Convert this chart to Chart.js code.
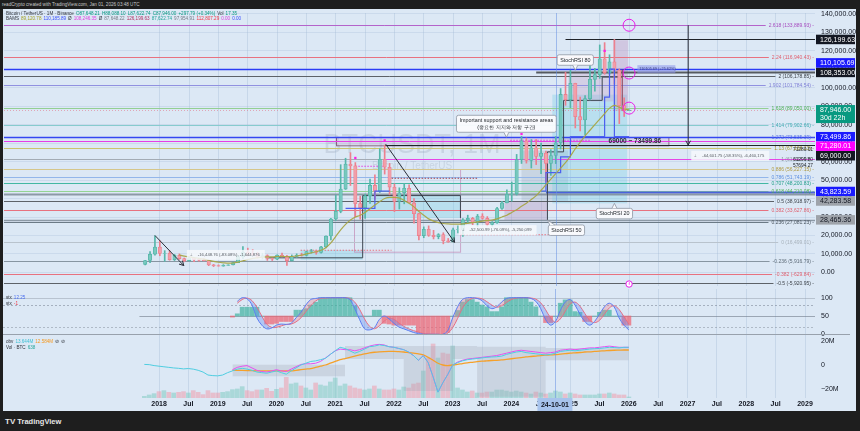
<!DOCTYPE html>
<html>
<head>
<meta charset="utf-8">
<script src="https://cdn.jsdelivr.net/npm/chart.js@4.4.1/dist/chart.umd.min.js"></script>
<style>
html,body{margin:0;padding:0;width:860px;height:431px;overflow:hidden;background:#1e1e1e;}
#frame{position:absolute;left:3px;top:9px;width:853px;height:402px;background:#dce8f5;}
canvas{position:absolute;left:0;}
#hdr{position:absolute;left:2px;top:2px;font:4.6px "Liberation Sans",Arial,sans-serif;color:#c8c8c8;white-space:nowrap;}
#tv{position:absolute;left:5px;top:417px;font:bold 7.5px "Liberation Sans",Arial,sans-serif;color:#e6e6e6;white-space:nowrap;}
</style>
</head>
<body>
<div id="hdr">readCrypto created with TradingView.com, Jan 01, 2026 03:48 UTC</div>
<div id="frame"></div>
<canvas id="cMain" width="860" height="281" style="top:9px"></canvas>
<canvas id="cStoch" width="860" height="48" style="top:289px"></canvas>
<canvas id="cLow" width="860" height="74" style="top:337px"></canvas>
<div id="tv"><span style="font-size:8px">TV</span> TradingView</div>
<script>
// ---------------- DATA ----------------
const firstMonth = '2017-10';            // first monthly candle (BTCUSDT, Binance, 1M)
const open = [
 4378.49, 6463.00, 9837.00,
 13715.65, 10285.10, 10325.64, 6922.00, 9246.01, 7485.01, 6391.08, 7735.67, 7011.21, 6626.57, 6369.52, 4041.27,
 3701.23, 3434.10, 3814.26, 4102.44, 5321.94, 8555.00, 10854.10, 10080.53, 9588.74, 8289.97, 9140.86, 7540.63,
 7195.24, 9351.71, 8523.61, 6412.14, 8620.00, 9448.27, 9138.08, 11335.46, 11649.51, 10776.59, 13791.00, 19695.87,
 28923.63, 33092.97, 45134.11, 58739.46, 57697.25, 37254.24, 35045.00, 41461.84, 47100.89, 43820.01, 61299.81, 56950.56,
 46216.93, 38466.90, 43160.00, 45510.35, 37631.83, 31801.05, 19942.21, 23296.36, 20048.44, 19422.61, 20490.74, 17165.53,
 16541.77, 23125.13, 23141.57, 28465.36, 29233.20, 27210.36, 30471.99, 29232.26, 25940.77, 26962.57, 34639.78, 37723.97,
 42283.58, 42580.00, 61130.99, 71280.00, 60672.01, 67540.01, 62772.01, 64628.01, 58974.00, 63327.60, 70215.20, 96407.99,
 93576.00, 102429.56, 84349.95, 82550.00, 94172.00, 104591.88, 107135.34, 115764.07, 108246.36, 114048.94, 109608.01, 90360.01,
 87648.21];
const high = [
 6498.01, 11300.03, 19798.68,
 17176.24, 11786.01, 11710.00, 9759.82, 10020.00, 7786.69, 8491.77, 7750.00, 7410.00, 7680.00, 6615.15, 4312.99,
 4069.80, 4198.00, 4140.00, 5656.52, 9074.26, 13970.00, 13147.08, 12325.00, 10905.87, 10370.00, 9513.68, 7750.00,
 9578.00, 10500.00, 9188.00, 9467.35, 10067.00, 10380.00, 11444.00, 12468.00, 12050.85, 14100.00, 19863.16, 29300.00,
 41950.00, 58352.80, 61844.00, 64854.00, 59500.00, 41330.00, 42448.00, 50500.00, 52920.00, 66999.00, 69000.00, 59053.55,
 47990.00, 45821.00, 48189.84, 47444.11, 40023.77, 31986.10, 24668.00, 25211.32, 22799.00, 20988.39, 21480.65, 18387.95,
 23960.54, 25250.00, 29184.68, 31000.00, 29820.00, 31431.94, 31804.20, 30244.00, 27483.57, 35280.00, 38450.00, 44700.00,
 48969.48, 63913.13, 73777.00, 72797.99, 71979.00, 71997.02, 70079.99, 65659.78, 66498.00, 73620.12, 99588.01, 108353.00,
 109588.00, 102500.01, 95000.00, 95758.04, 111980.00, 110530.17, 123218.00, 124474.00, 117900.00, 126199.63, 110250.00, 94588.99,
 88088.10];
const low = [
 4110.00, 5325.01, 9380.00,
 9035.00, 6000.01, 6600.10, 6430.00, 7032.95, 5750.00, 6070.00, 5880.00, 6111.00, 6205.00, 3652.66, 3156.26,
 3349.92, 3373.10, 3759.01, 4067.00, 5316.20, 7444.58, 9010.00, 9320.00, 7710.00, 7300.00, 6515.00, 6435.00,
 6871.04, 8445.00, 3782.13, 6150.11, 8117.00, 8833.00, 8893.03, 10518.50, 9825.00, 10416.69, 13195.05, 17572.33,
 28130.00, 32296.16, 44950.53, 47044.01, 30000.00, 28805.00, 29278.00, 37332.70, 39600.00, 43283.03, 53256.64, 42000.30,
 32917.17, 34322.28, 37155.00, 37578.20, 26700.00, 17622.00, 18781.00, 19520.00, 18125.98, 18190.00, 15476.00, 16256.30,
 16499.01, 21351.07, 19549.09, 26942.82, 25811.46, 24800.00, 28861.90, 25166.00, 24901.00, 26538.66, 34097.39, 37615.86,
 38555.00, 41884.28, 59005.00, 59191.60, 56552.82, 58402.00, 53485.93, 49000.00, 52550.00, 58946.00, 66835.00, 90500.00,
 89256.69, 78258.52, 76606.00, 74508.00, 93377.00, 98200.00, 105100.19, 107350.10, 107255.00, 102000.00, 80600.00, 84450.00,
 87622.74];
const close = [
 6463.00, 9838.96, 13716.36,
 10285.10, 10326.50, 6923.91, 9246.01, 7485.01, 6390.07, 7730.93, 7011.21, 6626.57, 6371.93, 4041.32, 3702.90,
 3434.10, 3813.69, 4103.95, 5320.81, 8555.00, 10854.10, 10080.53, 9587.47, 8289.34, 9140.85, 7541.89, 7195.23,
 9352.89, 8523.61, 6410.44, 8620.00, 9448.27, 9138.55, 11335.46, 11649.51, 10776.59, 13791.00, 19695.87, 28923.63,
 33092.98, 45135.66, 58740.55, 57694.27, 37253.81, 35045.00, 41461.83, 47100.89, 43824.43, 61299.80, 56950.56, 46216.93,
 38466.90, 43160.00, 45510.34, 37630.80, 31801.04, 19942.21, 23293.32, 20050.02, 19422.61, 20490.74, 17164.92, 16542.40,
 23125.13, 23141.57, 28465.36, 29233.21, 27210.35, 30472.00, 29232.25, 25940.78, 26962.56, 34639.77, 37723.96, 42283.58,
 42580.00, 61130.98, 71280.01, 60672.00, 67540.01, 62772.01, 64628.00, 58973.99, 63327.59, 70215.19, 96407.99, 93576.00,
 102429.56, 84349.94, 82550.01, 94172.00, 104591.88, 107135.33, 115764.08, 108246.35, 114048.93, 109608.01, 90360.00, 87648.22,
 87946.00];
// monthly volume, thousand BTC
const volumeK = [
 500, 900, 1300,
 1900, 2200, 1700, 1500, 1700, 1900, 1500, 2200, 1700, 1000, 2200, 1500,
 1500, 1700, 1900, 2500, 2700, 3400, 2200, 1900, 2400, 2400, 2900, 2000,
 2600, 3000, 6200, 4200, 4500, 3600, 3000, 2400, 4500, 3900, 3600, 4800,
 6000, 3600, 4200, 3600, 3000, 2700, 2400, 2700, 3600, 2700, 2400, 2400,
 2700, 2400, 3300, 3000, 4200, 4500, 8100, 12000, 16200, 12000, 13500, 13200,
 15600, 3000, 2400, 1800, 2100, 1500, 1500, 1800, 1800, 2400, 2400, 2100,
 1800, 2100, 1800, 1500, 1200, 1800, 1500, 1200, 1500, 2100, 1800, 1200,
 1500, 1200, 900, 900, 900, 900, 1200, 1200, 1500, 1200, 900, 900,
 300];
// olive moving-average line (thousand USDT), from 2018-05
const maStart = '2018-05';
const maK = [
 9.5, 8.8, 8.4, 8.0, 7.6, 7.2, 6.6, 6.0,
 5.5, 5.2, 5.0, 5.1, 5.6, 6.3, 7.0, 7.6, 8.0, 8.3, 8.4, 8.4,
 8.6, 8.7, 8.5, 8.6, 8.9, 9.4, 10.0, 10.6, 11.2, 12.0, 13.5, 16.0,
 19.5, 23.0, 26.0, 28.4, 30.0, 31.0, 32.5, 34.5, 36.5, 38.4, 40.0, 40.6,
 40.6, 40.3, 39.0, 37.4, 35.5, 33.0, 31.0, 29.0, 27.8, 27.0, 26.5, 26.3,
 26.2, 26.2, 26.3, 26.6, 27.0, 27.4, 27.8, 28.1, 28.4, 29.0, 30.0, 31.0,
 32.5, 34.0, 35.8, 37.5, 39.5, 41.6, 44.5, 47.5, 50.5, 53.5, 56.5, 59.5,
 63.0, 67.0, 70.5, 74.0, 77.0, 80.0, 83.0, 86.0, 89.0, 90.5, 89.5, 88.5,
 88.0];
// blue stepped support line (thousand USDT), from 2021-03
const stepStart = '2021-03';
const stepK = [
 34.7, 34.7, 34.7, 34.7, 34.7, 34.7, 34.7, 44.0, 44.0, 44.0,
 null, null, null, null, null, null, null, null, null, null, null, null,
 null, null, null, null, null, null, null, null, null, null, null, null,
 null, null, null, null, null, null, 44.0, 44.0, 54.0, 54.0, 54.0, 62.6,
 62.6, 73.5, 73.5, 73.5, 73.5, 73.5, 73.5, 73.5, 95.0, 110.1, 73.5, 73.5,
 73.5];
// pivot-high markers
const pivotMonths = ['2021-05', '2021-11', '2024-03', '2025-08'];
const pivotPrices = [62000, 71500, 75000, 120000];

// Fibonacci levels
const fibRatios = ['2.618','2.24','2','1.902','1.618','1.414','1.272','1.13','1','0.886','0.786','0.707','0.618','0.5','0.382','0.236','0','-0.236','-0.382','-0.5'];
const fibPrices = [133889.93,116940.43,106178.85,101784.54,89050.00,79902.66,73535.39,67168.13,61338.93,56227.15,51743.19,48200.83,44210.08,38918.97,33627.86,27081.23,16499.01,5916.79,-629.84,-5920.95];

// key price levels with axis badges
const levelPrices = [126199.63, 110105.69, 108353.00, 73499.86, 71280.01, 69000.00, 43823.59, 42283.58, 28465.36];
const levelFrom   = ['2024-12', '2015-01', '2024-06', '2015-01', '2015-01', '2021-11', '2024-08', '2015-01', '2015-01'];
const lastPrice = 87946.00, lastCountdown = '30d 22h';

// StochRSI pane (from 2019-05) and histogram (from 2019-04)
const stochStart = '2019-05';
const stochK = [
 90,100,97,80,45,25,15,17,
 25,28,27,30,45,60,80,95,98,100,100,100,
 100,100,100,95,70,40,15,12,18,40,50,42,
 30,20,15,10,5,2,0,0,0,0,0,10,
 45,75,95,100,100,98,92,78,70,75,88,98,
 100,100,100,100,98,90,70,40,25,35,65,88,
 95,80,55,35,25,35,55,75,85,75,45,25,
 12];
const stochD = [
 85,95,99,92,74,50,28,19,
 19,23,27,28,34,45,62,78,91,98,99,100,
 100,100,100,98,88,68,42,22,15,23,36,44,
 41,31,22,15,10,6,2,1,0,0,0,3,
 18,43,72,90,98,99,97,89,80,74,78,87,
 95,99,100,100,99,96,86,67,45,33,42,63,
 83,88,77,57,38,32,38,55,72,78,68,48,
 28];
const histStart = '2019-04';
const stochHist = [
 47,56,74,74,74,74,50,28,28,
 30,35,35,35,66,66,70,80,88,100,100,100,
 100,100,100,100,78,50,50,50,66,66,30,28,
 25,25,25,25,25,5,0,0,0,0,0,5,
 50,65,88,95,95,88,80,75,62,62,75,100,
 100,100,100,100,88,75,50,32,32,50,85,94,
 94,62,60,35,35,50,60,66,66,50,50,25,
 25];

// lower pane (millions)
const cyanM = [
 0.5, 0.3, -0.5,
 -1.0,-1.5,-2.0,-2.5,-2.8,-3.3,-3.0,-3.5,-4.5,-6.0,-8.5,-9.0,
 -9.2,-8.5,-6.5,-5.0,-3.5,-2.8,-3.5,-4.5,-6.0,-6.5,-7.0,-6.0,
 -5.0,-6.5,-7.8,-5.0,-2.5,0,1.5,3.0,3.5,4.5,5.6,9.0,
 12.0,15.0,14.0,12.0,10.0,11.5,13.5,15.5,16.0,17.0,16.5,15.5,
 15.0,14.0,13.0,11.0,8.0,4.0,8.0,2.0,-10.0,-23.0,-15.0,-8.0,
 0,2.0,3.5,4.5,5.0,5.5,6.0,6.5,6.8,7.0,7.5,9.0,
 10.0,11.0,11.5,10.5,10.0,9.5,9.0,8.5,9.0,10.0,11.5,12.0,
 12.5,12.0,12.5,13.0,13.5,13.8,14.0,14.5,15.0,14.8,14.5,15.0,
 15.0];
const lowStart = '2019-04';
const magentaM = [
 -4.0,-2.0,-1.0,-0.5,-2.5,-4.5,-5.5,-6.0,-5.0,
 -4.0,-5.0,-5.5,-3.5,-1.5,0.5,1.0,1.0,1.5,3.0,6.0,9.0,
 12.0,13.5,13.0,13.0,12.0,13.0,14.5,16.0,17.0,17.5,17.0,15.5,
 15.0,14.0,13.0,11.0,8.0,4.0,8.0,2.0,-10.0,-23.0,-15.0,-8.0,
 0,2.5,4.0,5.0,5.5,6.0,6.5,7.0,7.5,8.0,9.0,10.0,
 11.0,12.0,12.5,12.0,11.5,11.0,10.5,10.0,10.5,11.0,12.5,13.0,
 13.5,13.0,13.5,14.0,14.5,14.5,15.0,15.5,16.0,15.5,15.0,15.0,
 15.0];
const orangeM = [
 -4.5,-4.5,-4.6,-4.7,-4.8,-5.0,-5.0,-5.0,-5.0,
 -5.0,-5.0,-5.0,-5.0,-4.5,-4.0,-3.5,-3.0,-2.0,-1.0,0,1.5,
 3.0,4.5,5.5,6.5,7.5,8.5,9.5,10.2,10.8,11.2,11.4,11.5,
 11.5,11.3,11.0,10.5,10.0,9.5,8.5,6.5,4.0,1.5,0,-0.5,
 0,0.5,1.2,1.8,2.3,2.8,3.2,3.5,3.8,4.0,4.3,4.8,
 5.3,5.8,6.3,6.8,7.2,7.6,8.0,8.3,8.5,8.8,9.2,9.6,
 10.0,10.3,10.6,11.0,11.2,11.5,11.8,12.0,12.3,12.5,12.6,12.7,
 12.7];
const bandUpperM = [
 0.5,0.5,0.5,0.5,0.3,0.3,0.3,0.3,0.3, 0.3,0.3,0.3,0.3,0.3,0.3,0.3,0.3,0.3,0.3,0.3,0.3, 0.3,0.3,0.3,
 16,16,16,16,16,16,16,16,16,16,16,16,
 16,16,16,16,16,16,16,16,16,16,
 16,16,16,16,16,
 15.5,15.5,15.5,15.5,15.5,15.5,15.5,15.5,15.5,15.5,15.5,15.5,15.5,15.5,
 14.5,14.5,14.5,14.5,14.5,14.5,14.5,14.5,14.5,14.5,14.5,14.5,14.5,14.5,14.5,14.5,14.5];
const bandLowerM = [
 -9.5,-9.5,-9.5,-9.5,-9.5,-9.5,-9.5,-9.5,-9.5, -9.5,-9.5,-9.5,-9.5,-9.5,-9.5,-9.5,-9.5,-9.5,-9.5,-9.5,-9.5, -9.5,-9.5,-9.5,
 5,5,5,5,5,5,5,5,5,5,5,5,
 -22,-22,-22,-22,-22,-22,-22,-22,-22,-22,
 5,5,5,5,5,
 -27,-27,-27,-27,-27,-27,-27,-27,-27,-27,-27,-27,-27,-27,
 4,4,4,4,4,4,4,4,4,4,4,4,4,4,4,4,4];

// axes
const xTickLabels = ['2018','Jul','2019','Jul','2020','Jul','2021','Jul','2022','Jul','2023','Jul','2024','Jul','2025','Jul','2026','Jul','2027','Jul','2028','Jul','2029'];
const priceTicks = [0,10000,20000,30000,40000,50000,60000,70000,80000,90000,100000,110000,120000,130000,140000];
const stochTicks = [0,50,100];
const lowTicks = [-20,0,20];
const crossMonth = '2024-10';

// ---------------- HELPERS ----------------
const FONT = '"Liberation Sans", Arial, sans-serif';
const mi = s => { const [y, m] = s.split('-').map(Number); return (y - 2018) * 12 + (m - 1); };
const X_MIN = -31.88, X_MAX = 134.04;
const f0 = mi(firstMonth);
const fmt2 = v => v.toLocaleString('en-US', {minimumFractionDigits: 2, maximumFractionDigits: 2});
const xy = (start, vals, k = 1) => vals.map((v, i) => ({x: mi(start) + i, y: v === null ? null : v * k}));
const isUp = close.map((c, i) => c >= open[i]);
Chart.defaults.font.family = FONT;

function xScale(showLabels) {
  return {
    type: 'linear', min: X_MIN, max: X_MAX, offset: false,
    grid: {display: true, color: 'rgba(160,182,212,0.35)', drawTicks: false, offset: false},
    border: {display: false},
    ticks: {display: showLabels, autoSkip: false, maxRotation: 0, padding: 2, color: '#131722',
            font: {size: 7, weight: 'bold'}, callback: (v, i) => xTickLabels[i]},
    afterBuildTicks: s => { s.ticks = xTickLabels.map((t, i) => ({value: i * 6})); },
    afterFit: s => { s.paddingLeft = 0; s.paddingRight = 0; if (showLabels) s.height = 13; }
  };
}
function yScale(min, max, ticks, cb, grid) {
  return {
    position: 'right', min, max,
    grid: {display: grid, color: 'rgba(160,182,212,0.28)', drawTicks: false},
    border: {display: false},
    ticks: {padding: 6, color: '#131722', font: {size: 7}, callback: cb, autoSkip: false},
    afterBuildTicks: s => { s.ticks = ticks.map(v => ({value: v})); },
    afterFit: s => { s.width = 41; s.paddingTop = 0; s.paddingBottom = 0; }
  };
}
function line(ctx, pts, color, w, dash) {
  ctx.save(); ctx.strokeStyle = color; ctx.lineWidth = w || 1; ctx.setLineDash(dash || []);
  ctx.beginPath(); pts.forEach((p, i) => i ? ctx.lineTo(p[0], p[1]) : ctx.moveTo(p[0], p[1])); ctx.stroke(); ctx.restore();
}
function arrowHead(ctx, x0, y0, x1, y1, color) {
  const a = Math.atan2(y1 - y0, x1 - x0), L = 5;
  line(ctx, [[x1 - L * Math.cos(a - 0.5), y1 - L * Math.sin(a - 0.5)], [x1, y1], [x1 - L * Math.cos(a + 0.5), y1 - L * Math.sin(a + 0.5)]], color, 1);
}
function rrect(ctx, x, y, w, h, r) {
  ctx.beginPath(); ctx.moveTo(x + r, y); ctx.arcTo(x + w, y, x + w, y + h, r); ctx.arcTo(x + w, y + h, x, y + h, r);
  ctx.arcTo(x, y + h, x, y, r); ctx.arcTo(x, y, x + w, y, r); ctx.closePath();
}
function segs(ctx, x, y, parts) {
  parts.forEach(([t, c]) => { ctx.fillStyle = c; ctx.fillText(t, x, y); x += ctx.measureText(t).width + 2; });
}
function crosshair(chart) {
  const {ctx, chartArea: a, scales: {x}} = chart;
  const px = Math.round(x.getPixelForValue(mi(crossMonth))) + 0.5;
  line(ctx, [[px, a.top], [px, a.bottom]], 'rgba(105,145,225,0.55)', 1);
}

// ---------------- STYLE TABLES ----------------
const fibColors = ['#b463cb','#e8717f','#5d6268','#9191e0','#93cf93','#86cbce','#6f86e8','#cbc36c','#a3abb4','#d5c68a','#93b6ea','#42b7a3','#93d493','#5d6268','#e8717f','#6b7a86','#b9c3cd','#8795a1','#e8717f','#5d6268'];
const fibText   = ['#a64dbf','#e0606f','#3d4248','#7f7fd6','#4caf50','#3eaab0','#5a74e6','#a69a2a','#8c949c','#b09a40','#5d8fe0','#1f9d88','#4caf50','#3d4248','#e0606f','#4a5560','#a8b2bc','#5e6c78','#e0606f','#3d4248'];
const levelColors = ['#131722','#1a1aff','#131722','#1a1aff','#ff00ff','#131722','#1a1aff','#9ea3aa','#9ea3aa'];
const levelLine   = ['#1f2328','#2b3cf5','#555a60','#3446f2','#e63ee6','#1f2328','#4a62dc','rgba(120,132,146,0.8)','rgba(120,132,146,0.8)'];
const levelWidth  = [1.2, 1.5, 2, 1.5, 1, 1.2, 2, 2, 1.5];
const levelText   = ['#fff','#fff','#fff','#fff','#fff','#fff','#fff','#131722','#131722'];
const levelDir    = [1, -1, 1, 1, 1, 1, 1, 1, 1];

// annotation shapes in data coordinates (month index from Jan 2018, price)
const boxes = [
  {m0: 28.8, m1: 41.5, p0: 6800,  p1: 12100,  fill: 'rgba(120,205,225,0.35)'},
  {m0: 41.5, m1: 61.5, p0: 29500, p1: 41600,  fill: 'rgba(120,205,225,0.35)'},
  {m0: 39.8, m1: 61.5, p0: 11000, p1: 55800,  stroke: 'rgba(190,120,170,0.6)'},
  {m0: 70.5, m1: 79.3, p0: 28400, p1: 38400,  fill: 'rgba(175,140,185,0.35)'},
  {m0: 74.0, m1: 83.5, p0: 38800, p1: 66000,  fill: 'rgba(140,155,175,0.25)'},
  {m0: 80.3, m1: 95.6, p0: 37400, p1: 96300,  fill: 'rgba(120,205,230,0.35)'},
  {m0: 83.6, m1: 92.8, p0: 92600, p1: 108400, fill: 'rgba(195,160,200,0.35)'},
  {m0: 92.8, m1: 95.8, p0: 87400, p1: 125800, fill: 'rgba(190,150,195,0.4)'},
  {m0: 36.0, m1: 104.0, p0: 69000, p1: 73499.86, fill: 'rgba(205,170,205,0.3)', stroke: 'rgba(120,70,100,0.8)'}
];
const polylines = [
  {pts: [[21.9,7900],[41.5,7900],[41.5,41600],[61.5,41600],[61.5,29500]], color: '#3d4650'},
  {pts: [[79.3,28400],[79.3,65300],[82.6,65300],[82.6,93200],[90.5,93200],[90.5,105800],[94.6,105800]], color: '#3d4650'},
  {pts: [[94.6,110000],[94.6,87400]], color: '#8b3a4a'}
];
const dotted = [
  {m0: 40, m1: 45.8, p: 57500, color: '#e040e0'},
  {m0: 71.7, m1: 88, p: 71600, color: '#e040e0'},
  {m0: 28.8, m1: 47.4, p: 12000, color: '#e8717f'},
  {m0: 61.5, m1: 80, p: 20400, color: '#e8717f'},
  {m0: 46.8, m1: 65, p: 51000, color: '#a0404f'}
];
const arrows = [
  {m0: -1.0, p0: 20000, m1: 4.9, p1: 3700},
  {m0: 46.2, p0: 69500, m1: 60.3, p1: 16300},
  {m0: 108.1, p0: 133890, m1: 108.1, p1: 69000}
];
const circles = [{m: 96, p: 133890, r: 6}, {m: 96, p: 108000, r: 6}, {m: 96, p: 89000, r: 6}];
const measures = [
  {m: 13.5, p: 9470,  t: '-16,448.76 (-83.08%), -1,644,876'},
  {m: 69.1, p: 22900, t: '-52,500.99 (-76.09%), -5,250,099'},
  {m: 116.7, p: 63200, t: '-64,601.75 (-58.35%), -6,460,175'}
];
const callouts = [
  {m: 85.0, p: 109500, dx: 0, dy: -10, lines: ['StochRSI 80']},
  {m: 70.9, p: 73200,  dx: 0, dy: -10, lines: ['Important support and resistance areas', '(중요한 지지와 저항 구간)']},
  {m: 93.0, p: 37400,  dx: 0, dy: 10, lines: ['StochRSI 20']},
  {m: 79.3, p: 28400,  dx: 19, dy: 10, lines: ['StochRSI 50']}
];

// ---------------- MAIN PANE ----------------
const Y_MIN = -7368, Y_MAX = 140526;
const mainDecor = {
  id: 'mainDecor',
  beforeDatasetsDraw(chart) {
    const {ctx, chartArea: a, scales: {x, y}} = chart;
    const X = v => x.getPixelForValue(v), Y = v => y.getPixelForValue(v);
    ctx.save();
    ctx.beginPath(); ctx.rect(a.left, a.top, a.right - a.left, a.bottom - a.top); ctx.clip();
    ctx.textAlign = 'center'; ctx.textBaseline = 'middle';
    ctx.fillStyle = 'rgba(120,134,156,0.2)';
    ctx.font = '27px ' + FONT; ctx.fillText('BTCUSDT, 1M', X(51.6), Y(68500));
    ctx.font = '10px ' + FONT; ctx.fillText('Bitcoin / TetherUS', X(51.6), Y(57500));
    boxes.forEach(b => {
      const x0 = X(b.m0), x1 = X(b.m1), y0 = Y(b.p1), y1 = Y(b.p0);
      if (b.fill) { ctx.fillStyle = b.fill; ctx.fillRect(x0, y0, x1 - x0, y1 - y0); }
      if (b.stroke) { ctx.strokeStyle = b.stroke; ctx.lineWidth = 1; ctx.strokeRect(Math.round(x0) + .5, Math.round(y0) + .5, x1 - x0, y1 - y0); }
    });
    ctx.font = '5px ' + FONT;
    fibPrices.forEach((p, i) => {
      const t = fibRatios[i] + ' (' + fmt2(p) + ') -';
      const w = ctx.measureText(t).width;
      const yy = Math.round(Y(p)) + 0.5;
      line(ctx, [[a.left, yy], [a.right - w - 4, yy]], fibColors[i], 1);
    });
    levelPrices.forEach((p, i) => {
      const yy = Math.round(Y(p)) + 0.5;
      line(ctx, [[Math.max(a.left, X(mi(levelFrom[i]))), yy], [a.right, yy]], levelLine[i], levelWidth[i]);
    });
    line(ctx, [[X(mi('2021-11')), Math.round(Y(61299.80)) + .5], [a.right, Math.round(Y(61299.80)) + .5]], '#e646e6', 1);
    dotted.forEach(d => line(ctx, [[X(d.m0), Y(d.p)], [X(d.m1), Y(d.p)]], d.color, 1.2, [1.5, 1.5]));
    line(ctx, [[a.left, Math.round(Y(lastPrice)) + .5], [a.right, Math.round(Y(lastPrice)) + .5]], 'rgba(225,120,140,0.6)', 1, [1, 2]);
    polylines.forEach(pl => line(ctx, pl.pts.map(q => [X(q[0]), Y(q[1])]), pl.color, 1));
    ctx.restore();
  },
  afterDatasetsDraw(chart) {
    const {ctx, chartArea: a, scales: {x, y}} = chart;
    const X = v => x.getPixelForValue(v), Y = v => y.getPixelForValue(v);
    crosshair(chart);
    ctx.save();
    ctx.font = '5px ' + FONT; ctx.textAlign = 'right'; ctx.textBaseline = 'middle';
    fibPrices.forEach((p, i) => { ctx.fillStyle = fibText[i]; ctx.fillText(fibRatios[i] + ' (' + fmt2(p) + ') -', a.right - 1, Math.round(Y(p)) + 0.5); });
    ctx.font = '4.8px ' + FONT; ctx.fillStyle = '#1b1e24';
    ctx.fillText('71280.01', a.right - 2, Y(71280.01) + 9);
    ctx.fillText('61299.80', a.right - 2, Y(61299.80));
    ctx.fillText('57694.27', a.right - 2, Y(57694.27));
    ctx.font = 'bold 6.5px ' + FONT; ctx.fillStyle = '#2a2e39';
    ctx.fillText('69000 ~ 73499.86', X(104) - 7, Y(71250));
    ctx.fillStyle = 'rgba(140,150,235,0.55)'; ctx.fillRect(X(97.7), Y(110105.69) - 4, 38, 8);
    ctx.font = '3.8px ' + FONT; ctx.fillStyle = '#3a3f80'; ctx.textAlign = 'left';
    ctx.fillText('110105.69 (+25.62%)', X(97.7) + 2, Y(110105.69));
    arrows.forEach(r => { const x0 = X(r.m0), y0 = Y(r.p0), x1 = X(r.m1), y1 = Y(r.p1);
      line(ctx, [[x0, y0], [x1, y1]], '#2a2e39', 1); arrowHead(ctx, x0, y0, x1, y1, '#2a2e39'); });
    circles.forEach(c => { ctx.beginPath(); ctx.arc(X(c.m), Y(c.p), c.r, 0, Math.PI * 2); ctx.strokeStyle = '#e91ee9'; ctx.lineWidth = 1; ctx.stroke(); });
    ctx.beginPath(); ctx.arc(X(96), Y(-6300), 3.2, 0, Math.PI * 2); ctx.fillStyle = '#fff'; ctx.fill(); ctx.strokeStyle = '#e91ee9'; ctx.stroke();
    ctx.font = 'bold 4px ' + FONT; ctx.fillStyle = '#e91ee9'; ctx.textAlign = 'center'; ctx.fillText('f', X(96), Y(-6300) + 0.3);
    ctx.font = '4.2px ' + FONT;
    measures.forEach(mm => {
      const w = ctx.measureText(mm.t).width + 16, cx = X(mm.m), cy = Y(mm.p);
      ctx.fillStyle = 'rgba(246,248,251,0.85)'; ctx.fillRect(cx - w / 2, cy - 5, w, 10);
      ctx.fillStyle = '#555a62'; ctx.textAlign = 'left'; ctx.fillText('⌶', cx - w / 2 + 3, cy);
      ctx.fillText(mm.t, cx - w / 2 + 11, cy);
    });
    callouts.forEach(c => {
      ctx.font = '5.4px ' + FONT;
      const tx = X(c.m), ty = Y(c.p);
      const w = Math.max(...c.lines.map(l => ctx.measureText(l).width)) + 6, h = c.lines.length * 6.5 + 4;
      const cx = tx + c.dx, cy = ty + c.dy + (c.dy < 0 ? -h / 2 + 5 : h / 2 - 5);
      const bx = cx - w / 2, by = cy - h / 2;
      ctx.fillStyle = 'rgba(250,251,253,0.95)'; ctx.strokeStyle = '#8e96a2'; ctx.lineWidth = 0.8;
      rrect(ctx, bx, by, w, h, 2); ctx.fill(); ctx.stroke();
      const edgeY = c.dy < 0 ? by + h : by;
      const baseX = c.dx ? bx + 4 : cx;
      ctx.beginPath(); ctx.moveTo(baseX - 2.5, edgeY); ctx.lineTo(tx, ty); ctx.lineTo(baseX + 2.5, edgeY); ctx.closePath();
      ctx.fill(); line(ctx, [[baseX - 2.5, edgeY], [tx, ty], [baseX + 2.5, edgeY]], '#8e96a2', 0.8);
      ctx.fillStyle = '#1b1e24'; ctx.textAlign = 'center'; ctx.textBaseline = 'middle';
      c.lines.forEach((l, i) => ctx.fillText(l, cx, by + 5.3 + i * 6.5));
    });
    ctx.textAlign = 'left'; ctx.textBaseline = 'middle'; ctx.font = '4.6px ' + FONT;
    segs(ctx, a.left + 2, 4.5, [['Bitcoin / TetherUS · 1M · Binance', '#30343c'], ['O87,648.21', '#089981'], ['H88,088.10', '#089981'], ['L87,622.74', '#089981'], ['C87,946.00', '#089981'], ['+297.79 (+0.34%)', '#089981'], ['Vol', '#30343c'], ['17.35', '#089981']]);
    segs(ctx, a.left + 2, 9.5, [['BAMS', '#30343c'], ['89,120.78', '#a6a226'], ['110,185.89', '#3a50ff'], ['Ø', '#30343c'], ['108,246.35', '#e040e0'], ['Ø', '#30343c'], ['87,648.22', '#787b86'], ['126,199.63', '#b03060'], ['87,622.74', '#26a69a'], ['97,954.91', '#787b86'], ['112,807.29', '#f23645'], ['0.00', '#e040e0'], ['0.00', '#3a50ff']]);
    const placed = [];
    const place = (yy, h, dir) => { for (let k = 0; k < 12; k++) { const q = placed.find(o => Math.abs(o.y - yy) < (o.h + h) / 2 - 0.01); if (!q) break; yy = dir < 0 ? q.y - (q.h + h) / 2 : q.y + (q.h + h) / 2; } placed.push({y: yy, h}); return yy; };
    const bx0 = a.right + 1, bw = 39;
    const ly = Y(lastPrice);
    placed.push({y: ly + 3.5, h: 18});
    ctx.fillStyle = '#089981'; ctx.fillRect(bx0, ly - 5, bw, 18);
    ctx.font = '7px ' + FONT; ctx.fillStyle = '#fff'; ctx.fillText(fmt2(lastPrice), bx0 + 4, ly);
    ctx.fillText(lastCountdown, bx0 + 4, ly + 8);
    const order = [0, 2, 1, 3, 4, 5, 6, 7, 8];
    order.forEach(i => {
      const yy = place(Y(levelPrices[i]), 9.5, levelDir[i]);
      ctx.fillStyle = levelColors[i]; ctx.fillRect(bx0, yy - 4.75, bw, 9.5);
      ctx.fillStyle = levelText[i]; ctx.fillText(fmt2(levelPrices[i]), bx0 + 4, yy + 0.3);
    });
    ctx.restore();
  }
};

const candleBodies = open.map((o, i) => ({x: f0 + i, y: [Math.min(o, close[i]), Math.max(o, close[i])]}));
const candleWicks = open.map((o, i) => ({x: f0 + i, y: [low[i], high[i]]}));
const upFill = 'rgba(140,212,203,0.6)', upLine = '#56b6aa', dnFill = 'rgba(246,178,186,0.6)', dnLine = '#ec808e';

new Chart(document.getElementById('cMain'), {
  type: 'bar',
  data: {datasets: [
    {type: 'scatter', data: pivotMonths.map((s, i) => ({x: mi(s), y: pivotPrices[i]})), pointStyle: 'rect', pointRadius: 1.6, backgroundColor: '#ff1ee6', borderWidth: 0, order: 0},
    {type: 'line', data: xy(maStart, maK, 1000), borderColor: 'rgba(168,165,70,0.95)', borderWidth: 1.2, pointRadius: 0, cubicInterpolationMode: 'monotone', order: 1},
    {type: 'line', data: xy(stepStart, stepK, 1000), borderColor: '#4b5ff0', borderWidth: 1.2, pointRadius: 0, stepped: 'after', spanGaps: false, order: 1},
    {data: candleBodies, backgroundColor: isUp.map(u => u ? upFill : dnFill), borderColor: isUp.map(u => u ? upLine : dnLine), borderWidth: 0.8, borderSkipped: false, barThickness: 3.4, grouped: false, order: 2},
    {data: candleWicks, backgroundColor: isUp.map(u => u ? upLine : dnLine), borderWidth: 0, barThickness: 1, grouped: false, order: 3}
  ]},
  options: {
    responsive: false, animation: false, events: [],
    layout: {padding: {left: 3, right: 4, top: 0, bottom: 0}},
    plugins: {legend: {display: false}, tooltip: {enabled: false}},
    scales: {x: xScale(false), y: yScale(Y_MIN, Y_MAX, priceTicks, v => fmt2(v), true)}
  },
  plugins: [mainDecor]
});

// ---------------- STOCH RSI PANE ----------------
const stochDecor = {
  id: 'stochDecor',
  beforeDatasetsDraw(chart) {
    const {ctx, chartArea: a, scales: {x, y}} = chart;
    const Y = v => Math.round(y.getPixelForValue(v)) + 0.5;
    line(ctx, [[a.left, Y(100)], [a.right, Y(100)]], 'rgba(140,150,165,0.45)', 1);
    line(ctx, [[a.left, Y(80)], [a.right, Y(80)]], 'rgba(120,130,145,0.55)', 1, [2, 2]);
    line(ctx, [[x.getPixelForValue(mi('2017-09')), Y(50)], [a.right, Y(50)]], 'rgba(120,130,145,0.65)', 1);
    line(ctx, [[a.left, Y(20)], [a.right, Y(20)]], 'rgba(120,130,145,0.45)', 1, [2, 2]);
  },
  afterDatasetsDraw(chart) {
    const {ctx, chartArea: a, scales: {y}} = chart;
    crosshair(chart);
    line(ctx, [[a.left, Math.round(y.getPixelForValue(0)) + .5], [850, Math.round(y.getPixelForValue(0)) + .5]], '#98a1ac', 1);
    ctx.save(); ctx.font = '4.6px ' + FONT; ctx.textBaseline = 'middle'; ctx.textAlign = 'left';
    segs(ctx, a.left + 3, 9, [['stx', '#30343c'], ['12.25', '#4b6ff0']]);
    segs(ctx, a.left + 3, 15, [['stx', '#30343c'], ['-1', '#f23645']]);
    ctx.restore();
  }
};
const histUp = 'rgba(62,178,160,0.7)', histDn = 'rgba(238,96,110,0.7)';
new Chart(document.getElementById('cStoch'), {
  type: 'bar',
  data: {datasets: [
    {type: 'line', data: xy(stochStart, stochK), borderColor: '#5b7cf2', borderWidth: 1, pointRadius: 0, tension: 0.35,
     fill: {target: '+1', above: 'rgba(240,125,140,0.35)', below: 'rgba(95,135,240,0.35)'}, order: 1},
    {type: 'line', data: xy(stochStart, stochD), borderColor: '#ef6b7b', borderWidth: 1, pointRadius: 0, tension: 0.35, order: 2},
    {data: stochHist.map((v, i) => ({x: mi(histStart) + i, y: [50, v]})), backgroundColor: stochHist.map(v => v >= 50 ? histUp : histDn),
     borderWidth: 0, barThickness: 4.2, grouped: false, order: 5}
  ]},
  options: {
    responsive: false, animation: false, events: [],
    layout: {padding: {left: 3, right: 4, top: 0, bottom: 0}},
    plugins: {legend: {display: false}, tooltip: {enabled: false}},
    scales: {x: xScale(false), y: yScale(-7.4, 123.8, stochTicks, v => String(v), false)}
  },
  plugins: [stochDecor]
});

// ---------------- LOWER PANE ----------------
const lowDecor = {
  id: 'lowDecor',
  afterDatasetsDraw(chart) {
    const {ctx, chartArea: a, scales: {x}} = chart;
    crosshair(chart);
    ctx.save(); ctx.font = '4.6px ' + FONT; ctx.textBaseline = 'middle'; ctx.textAlign = 'left';
    segs(ctx, a.left + 3, 5, [['obv', '#30343c'], ['13.644M', '#3bbfd3'], ['12.584M', '#f59a23'], ['⊘', '#30343c'], ['⊘', '#30343c']]);
    segs(ctx, a.left + 3, 10.5, [['Vol · BTC', '#30343c'], ['638', '#26a69a']]);
    const px = x.getPixelForValue(mi(crossMonth));
    ctx.fillStyle = '#a7c3ec'; ctx.fillRect(px - 18, a.bottom, 35, 13);
    ctx.font = 'bold 7px ' + FONT; ctx.fillStyle = '#131722'; ctx.textAlign = 'center';
    ctx.fillText('24-10-01', px - 0.5, a.bottom + 6.8);
    ctx.restore();
  }
};
new Chart(document.getElementById('cLow'), {
  type: 'bar',
  data: {datasets: [
    {type: 'line', data: xy(firstMonth, cyanM), borderColor: '#4fcde0', borderWidth: 1, pointRadius: 0, order: 1},
    {type: 'line', data: xy(lowStart, magentaM), borderColor: '#e64ff0', borderWidth: 1, pointRadius: 0, order: 2},
    {type: 'line', data: xy(lowStart, orangeM), borderColor: '#f5a02a', borderWidth: 1.3, pointRadius: 0, cubicInterpolationMode: 'monotone', order: 3},
    {type: 'line', data: xy(lowStart, bandUpperM), borderWidth: 0, pointRadius: 0, stepped: 'after', fill: '+1', backgroundColor: 'rgba(165,170,182,0.32)', order: 6},
    {type: 'line', data: xy(lowStart, bandLowerM), borderWidth: 0, pointRadius: 0, stepped: 'after', order: 7},
    {data: volumeK.map((v, i) => ({x: f0 + i, y: v})), yAxisID: 'yv', backgroundColor: isUp.map(u => u ? 'rgba(120,200,190,0.5)' : 'rgba(240,150,165,0.5)'),
     borderWidth: 0, barThickness: 4, grouped: false, order: 8}
  ]},
  options: {
    responsive: false, animation: false, events: [],
    layout: {padding: {left: 3, right: 4, top: 0, bottom: 0}},
    plugins: {legend: {display: false}, tooltip: {enabled: false}},
    scales: {
      x: xScale(true),
      y: yScale(-27.97, 23.73, lowTicks, v => v === 0 ? '0' : (v < 0 ? '−' : '') + Math.abs(v) + 'M', false),
      yv: {display: false, position: 'right', min: 0, max: 18300}
    }
  },
  plugins: [lowDecor]
});
</script>
</body>
</html>
